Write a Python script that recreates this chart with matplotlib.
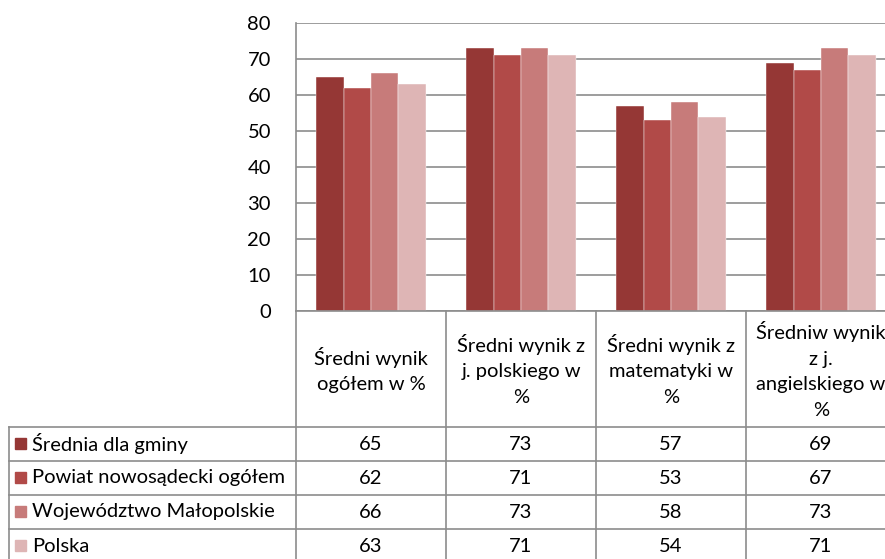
import matplotlib.pyplot as plt
import numpy as np

# data
categories = ['Średni wynik\nogółem w %', 'Średni wynik z\nj. polskiego w\n%',
              'Średni wynik z\nmatematyki w\n%', 'Średniw wynik\nz j.\nangielskiego w\n%']
series_names = ['Średnia dla gminy', 'Powiat nowosądecki ogółem',
                'Województwo Małopolskie', 'Polska']
gmina = [65, 73, 57, 69]
powiat = [62, 71, 53, 67]
wojewodztwo = [66, 73, 58, 73]
polska = [63, 71, 54, 71]
values = [gmina, powiat, wojewodztwo, polska]
colors = ['#953735', '#B14A48', '#C77B7A', '#DEB5B5']
yticks = [0, 10, 20, 30, 40, 50, 60, 70, 80]

plt.rcParams['font.family'] = ['Lato', 'DejaVu Sans']
W, H = 885, 559
fs = 14.5
fig = plt.figure(figsize=(W / 100, H / 100), dpi=100)
grid_c = '#8c8c8c'

# bar chart area (in pixels: x 296..896, y 23..311)
x0, x1, ytop, ybot = 296, 896, 23, 311
ax = fig.add_axes([x0 / W, 1 - ybot / H, (x1 - x0) / W, (ybot - ytop) / H])
n = len(categories)
bw = 0.182
for k, (vals, c) in enumerate(zip(values, colors)):
    ax.bar(np.arange(n) + 0.5 + (k - 1.5) * bw, vals, width=bw, color=c,
           edgecolor='white', linewidth=0.3, zorder=3)
ax.set_xlim(0, n)
ax.set_ylim(0, 80)
ax.set_yticks(yticks)
ax.set_xticks([])
ax.grid(axis='y', color=grid_c, linewidth=1.2, zorder=0)
ax.tick_params(axis='y', length=0, pad=18, labelsize=fs)
for s in ['top', 'right', 'bottom']:
    ax.spines[s].set_visible(False)
ax.spines['left'].set_color(grid_c)
ax.spines['left'].set_linewidth(1.2)

# data table drawn in pixel coordinates
tab = fig.add_axes([0, 0, 1, 1])
tab.set_xlim(0, W)
tab.set_ylim(H, 0)
tab.axis('off')
col_w = 150
row_tops = [427, 461, 495, 529, 563]
tab.plot([x0, W], [ybot, ybot], color=grid_c, lw=1.2)
for y in row_tops:
    tab.plot([9, W], [y, y], color=grid_c, lw=1.2)
tab.plot([9, 9], [row_tops[0], H], color=grid_c, lw=1.2)
for i in range(n):
    tab.plot([x0 + i * col_w] * 2, [ybot, H], color=grid_c, lw=1.2)
    tab.text(x0 + i * col_w + col_w / 2, (ybot + row_tops[0]) / 2 + 1, categories[i],
             ha='center', va='center', fontsize=fs, linespacing=1.6)
for r, (name, vals, c) in enumerate(zip(series_names, values, colors)):
    yc = (row_tops[r] + row_tops[r + 1]) / 2
    tab.add_patch(plt.Rectangle((15, yc - 6), 11, 11, color=c))
    tab.text(32, yc, name, ha='left', va='center', fontsize=fs)
    for i, v in enumerate(vals):
        tab.text(x0 + i * col_w + col_w / 2, yc, str(v), ha='center', va='center', fontsize=fs)

fig.savefig('out.png', dpi=100)
